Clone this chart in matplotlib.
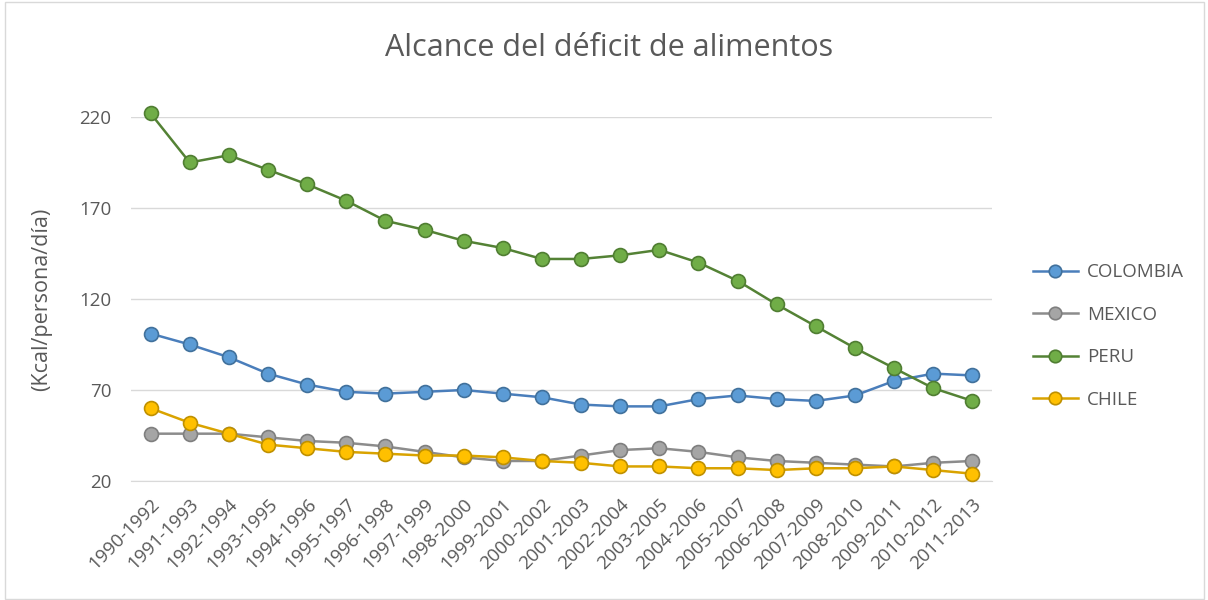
import matplotlib
matplotlib.use("Agg")
import matplotlib.pyplot as plt
from matplotlib.patches import Rectangle

periods = ["1990-1992", "1991-1993", "1992-1994", "1993-1995", "1994-1996", "1995-1997",
           "1996-1998", "1997-1999", "1998-2000", "1999-2001", "2000-2002", "2001-2003",
           "2002-2004", "2003-2005", "2004-2006", "2005-2007", "2006-2008", "2007-2009",
           "2008-2010", "2009-2011", "2010-2012", "2011-2013"]

colombia = [101, 95, 88, 79, 73, 69, 68, 69, 70, 68, 66, 62, 61, 61, 65, 67, 65, 64, 67, 75, 79, 78]
mexico = [46, 46, 46, 44, 42, 41, 39, 36, 33, 31, 31, 34, 37, 38, 36, 33, 31, 30, 29, 28, 30, 31]
peru = [222, 195, 199, 191, 183, 174, 163, 158, 152, 148, 142, 142, 144, 147, 140, 130, 117, 105, 93, 82, 71, 64]
chile = [60, 52, 46, 40, 38, 36, 35, 34, 34, 33, 31, 30, 28, 28, 27, 27, 26, 27, 27, 28, 26, 24]

yticks = [20, 70, 120, 170, 220]

series = [
    ("COLOMBIA", colombia, "#5B9BD5", "#41719C", "#4A7EBB"),
    ("MEXICO", mexico, "#A5A5A5", "#7F7F7F", "#8C8C8C"),
    ("PERU", peru, "#70AD47", "#507E32", "#548235"),
    ("CHILE", chile, "#FFC000", "#BF9000", "#D9A300"),
]

plt.rcParams['font.family'] = ['Open Sans', 'DejaVu Sans']
txt = "#595959"

fig = plt.figure(figsize=(12.08, 6.0), dpi=100)
ax = fig.add_axes([131 / 1208, 1 - 481 / 600, (992 - 131) / 1208, (481 - 117) / 600])

x = list(range(len(periods)))
for name, vals, fc, ec, lc in series:
    ax.plot(x, vals, color=lc, lw=1.8, marker='o', markersize=10,
            markerfacecolor=fc, markeredgecolor=ec, markeredgewidth=1.2,
            label=name, clip_on=False, zorder=3)

ax.set_xlim(-0.5, len(periods) - 0.5)
ax.set_ylim(20, 220)
ax.set_yticks(yticks)
ax.set_yticklabels([str(v) for v in yticks], fontsize=13.5, color=txt)
ax.set_xticks(x)
ax.set_xticklabels(periods, rotation=45, ha='right', rotation_mode='anchor',
                   fontsize=13.5, color=txt)
ax.tick_params(axis='both', length=0)
ax.tick_params(axis='x', pad=10)
ax.tick_params(axis='y', pad=14)
ax.grid(axis='y', color='#D9D9D9', lw=1)
ax.set_axisbelow(True)
for s in ax.spines.values():
    s.set_visible(False)
ax.spines['bottom'].set_visible(True)
ax.spines['bottom'].set_color('#D9D9D9')

ax.set_ylabel("(Kcal/persona/día)", fontsize=15.5, color=txt)
ax.yaxis.set_label_coords(-79 / 861, 0.5)

fig.text(609 / 1208, 1 - 48 / 600, "Alcance del déficit de alimentos",
         ha='center', va='center', fontsize=22, color=txt)

leg = fig.legend(loc='center left', bbox_to_anchor=(1016 / 1208, 1 - 336 / 600),
                 frameon=False, fontsize=13.5, labelcolor=txt, handlelength=2.4,
                 handletextpad=0.5, labelspacing=1.3, markerscale=0.9)

fig.patches.append(Rectangle((0.004, 0.002), 0.993, 0.995, transform=fig.transFigure,
                             fill=False, edgecolor='#D9D9D9', lw=1))

fig.savefig("out.png", dpi=100, facecolor='white')
